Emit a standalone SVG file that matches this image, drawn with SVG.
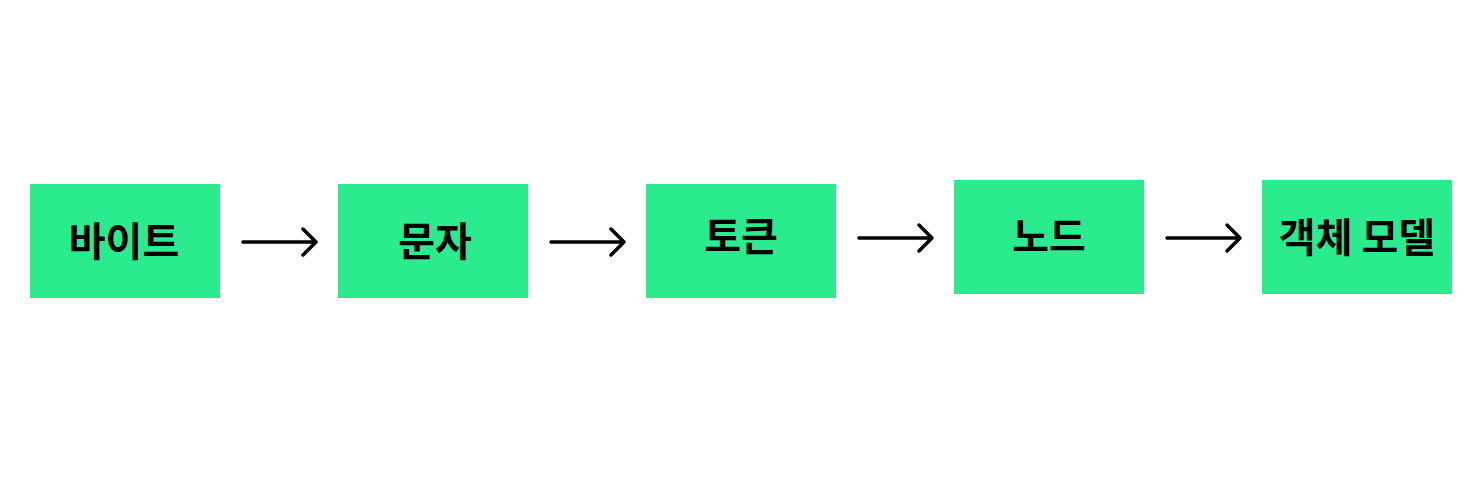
<svg xmlns="http://www.w3.org/2000/svg" width="1480" height="480" viewBox="0 0 1480 480">
<style>
.box{fill:#2beb8f}
.lbl{font-family:"Noto Sans CJK KR","Noto Sans",sans-serif;font-weight:700;font-size:40px;fill:#000;text-anchor:middle}
.arr{fill:none;stroke:#000;stroke-width:3.5;stroke-linecap:round;stroke-linejoin:round}
</style>
<rect width="1480" height="480" fill="#fff"/>
<g id="n1"><rect class="box" x="30" y="184" width="190" height="114"/><text class="lbl" x="124" y="256">바이트</text></g>
<g id="n2"><rect class="box" x="338" y="184" width="190" height="114"/><text class="lbl" x="435" y="256">문자</text></g>
<g id="n3"><rect class="box" x="646" y="184" width="190" height="114"/><text class="lbl" x="741" y="251">토큰</text></g>
<g id="n4"><rect class="box" x="954" y="180" width="190" height="114"/><text class="lbl" x="1049" y="251">노드</text></g>
<g id="n5"><rect class="box" x="1262" y="180" width="190" height="114"/><text class="lbl" x="1357" y="252">객체 모델</text></g>
<g id="connectors">
<path class="arr" d="M243 242H316M303 229L316 242L303 255"/>
<path class="arr" d="M551 242H624M611 229L624 242L611 255"/>
<path class="arr" d="M859 238H932M919 225L932 238L919 251"/>
<path class="arr" d="M1167 238H1240M1227 225L1240 238L1227 251"/>
</g>
</svg>
